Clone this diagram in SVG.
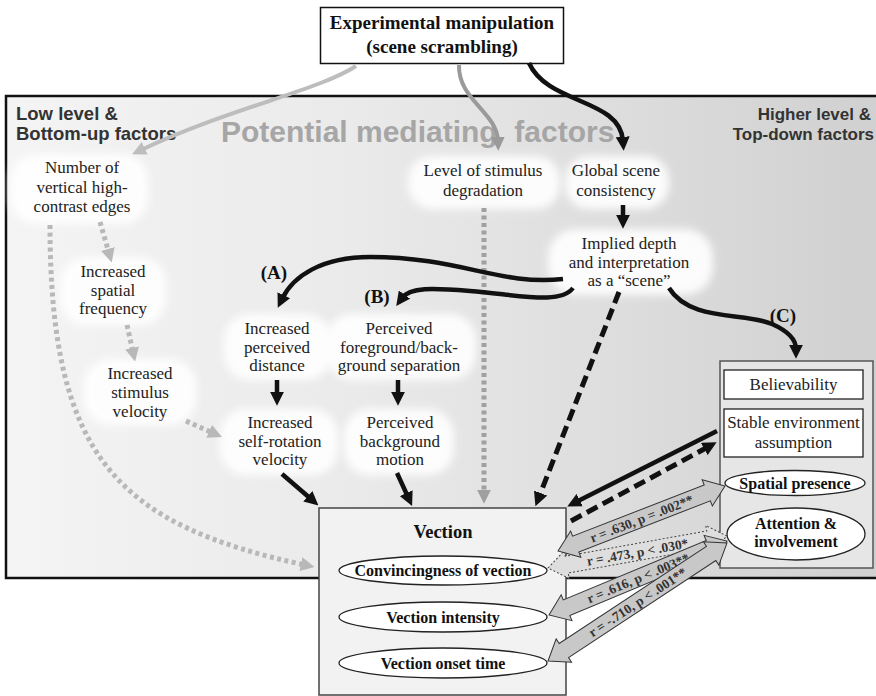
<svg xmlns="http://www.w3.org/2000/svg" width="876" height="696" viewBox="0 0 876 696">
<defs>
<linearGradient id="pg" x1="0" y1="0" x2="1" y2="0">
<stop offset="0" stop-color="#f4f4f4"/>
<stop offset="0.4" stop-color="#eaeaea"/>
<stop offset="1" stop-color="#d0d0d0"/>
</linearGradient>
<filter id="soft" x="-20%" y="-30%" width="140%" height="160%"><feGaussianBlur stdDeviation="4"/></filter>
<marker id="mk" viewBox="0 0 10 10" refX="3" refY="5" markerWidth="14" markerHeight="14" markerUnits="userSpaceOnUse" orient="auto"><path d="M0,0L10,5L0,10z" fill="#111"/></marker>
<marker id="mkg1" viewBox="0 0 10 10" refX="3" refY="5" markerWidth="14" markerHeight="14" markerUnits="userSpaceOnUse" orient="auto"><path d="M0,0L10,5L0,10z" fill="#bdbdbd"/></marker>
<marker id="mkg2" viewBox="0 0 10 10" refX="3" refY="5" markerWidth="14" markerHeight="14" markerUnits="userSpaceOnUse" orient="auto"><path d="M0,0L10,5L0,10z" fill="#9a9a9a"/></marker>
<marker id="mkg3" viewBox="0 0 10 10" refX="3" refY="5" markerWidth="14" markerHeight="14" markerUnits="userSpaceOnUse" orient="auto"><path d="M0,0L10,5L0,10z" fill="#b8b8b8"/></marker>
<marker id="mkg4" viewBox="0 0 10 10" refX="3" refY="5" markerWidth="14" markerHeight="14" markerUnits="userSpaceOnUse" orient="auto"><path d="M0,0L10,5L0,10z" fill="#a0a0a0"/></marker>
</defs>
<style>
.blob{fill:#ffffff;opacity:0.92;filter:url(#soft)}
.nt{font-family:"Liberation Serif","Times New Roman",serif;font-size:17px;fill:#222;text-anchor:middle}
.bt{font-family:"Liberation Serif","Times New Roman",serif;font-weight:bold;font-size:16px;fill:#111;text-anchor:middle}
.sec{font-family:"Liberation Sans",Arial,sans-serif;font-weight:bold;font-size:17px;fill:#333}
.lbl{font-family:"Liberation Serif","Times New Roman",serif;font-weight:bold;font-size:19px;fill:#111;text-anchor:middle}
.blk{fill:none;stroke:#111;stroke-width:4.5;marker-end:url(#mk)}
.blkd{fill:none;stroke:#111;stroke-width:5;stroke-dasharray:12 6;marker-end:url(#mk)}
.dot{fill:none;stroke:#b8b8b8;stroke-width:5;stroke-dasharray:4 3.5;marker-end:url(#mkg3)}
.fat{fill:#c8c8c8;stroke:#333;stroke-width:1}
.fatd{fill:#dedede;stroke:#444;stroke-width:1;stroke-dasharray:2 2}
.rt{font-family:"Liberation Serif","Times New Roman",serif;font-weight:bold;font-size:13.5px;fill:#333;text-anchor:middle}
.ell{fill:#ffffff;stroke:#222;stroke-width:1.3}
</style>

<rect x="6" y="96" width="874" height="482" fill="url(#pg)" stroke="#111" stroke-width="2.5"/>
<text class="sec" x="16" y="120" style="font-size:18.5px">Low level &amp;</text>
<text class="sec" x="16" y="140" style="font-size:18.5px">Bottom-up factors</text>
<text class="sec" x="871" y="120" text-anchor="end">Higher level &amp;</text>
<text class="sec" x="874" y="140" text-anchor="end">Top-down factors</text>
<text x="221" y="142" font-family="'Liberation Sans',Arial,sans-serif" font-weight="bold" font-size="30" fill="#a6a6a6" xml:space="preserve">Potential mediating  factors</text>

<g id="n_top">
<rect x="320.5" y="7.5" width="243" height="56" fill="#fff" stroke="#111" stroke-width="1.5"/>
<text class="bt" x="442" y="29" style="font-size:19px">Experimental manipulation</text>
<text class="bt" x="442" y="53" style="font-size:19px">(scene scrambling)</text>
</g>

<g id="n_edges">
<rect class="blob" x="10" y="154" width="138" height="70" rx="26"/>
<text class="nt" x="82" y="173">Number of</text>
<text class="nt" x="82" y="192.5">vertical high-</text>
<text class="nt" x="82" y="212">contrast edges</text>
</g>
<g id="n_spatial">
<rect class="blob" x="60" y="257" width="106" height="68" rx="26"/>
<text class="nt" x="113" y="277">Increased</text>
<text class="nt" x="113" y="295.5">spatial</text>
<text class="nt" x="113" y="314">frequency</text>
</g>
<g id="n_stimvel">
<rect class="blob" x="84" y="359" width="112" height="66" rx="26"/>
<text class="nt" x="140" y="379">Increased</text>
<text class="nt" x="140" y="398">stimulus</text>
<text class="nt" x="140" y="416.5">velocity</text>
</g>
<g id="n_dist">
<rect class="blob" x="224" y="314" width="108" height="66" rx="26"/>
<text class="nt" x="277" y="334">Increased</text>
<text class="nt" x="277" y="353">perceived</text>
<text class="nt" x="277" y="371">distance</text>
</g>
<g id="n_selfrot">
<rect class="blob" x="220" y="409" width="118" height="66" rx="26"/>
<text class="nt" x="280" y="428">Increased</text>
<text class="nt" x="280" y="447">self-rotation</text>
<text class="nt" x="280" y="465">velocity</text>
</g>
<g id="n_fg">
<rect class="blob" x="326" y="314" width="150" height="66" rx="26"/>
<text class="nt" x="399" y="334">Perceived</text>
<text class="nt" x="399" y="353">foreground/back-</text>
<text class="nt" x="399" y="371">ground separation</text>
</g>
<g id="n_bgm">
<rect class="blob" x="344" y="409" width="110" height="66" rx="26"/>
<text class="nt" x="400" y="428">Perceived</text>
<text class="nt" x="400" y="447">background</text>
<text class="nt" x="400" y="465">motion</text>
</g>
<g id="n_degr">
<rect class="blob" x="408" y="156" width="152" height="53" rx="24"/>
<text class="nt" x="483" y="176">Level of stimulus</text>
<text class="nt" x="483" y="196">degradation</text>
</g>
<g id="n_global">
<rect class="blob" x="565" y="156" width="104" height="53" rx="24"/>
<text class="nt" x="616" y="176">Global scene</text>
<text class="nt" x="616" y="196">consistency</text>
</g>
<g id="n_depth">
<rect class="blob" x="548" y="229" width="165" height="66" rx="28"/>
<text class="nt" x="629" y="249">Implied depth</text>
<text class="nt" x="629" y="268">and interpretation</text>
<text class="nt" x="629" y="286">as a “scene”</text>
</g>

<g id="n_topdown">
<rect x="720" y="361" width="153" height="207" fill="#e6e6e6" stroke="#555" stroke-width="1.5"/>
<rect x="724" y="370" width="139" height="29" fill="#fff" stroke="#222" stroke-width="1.3"/>
<text class="nt" x="793.5" y="390">Believability</text>
<rect x="724" y="409" width="139" height="48" fill="#fff" stroke="#222" stroke-width="1.3"/>
<text class="nt" x="793.5" y="428">Stable environment</text>
<text class="nt" x="793.5" y="448">assumption</text>
<ellipse class="ell" cx="795" cy="483" rx="70" ry="12.5"/>
<text class="bt" x="795" y="488.5">Spatial presence</text>
<ellipse class="ell" cx="796" cy="534" rx="69" ry="26"/>
<text class="bt" x="796" y="529">Attention &amp;</text>
<text class="bt" x="796" y="547">involvement</text>
</g>

<g id="n_vection">
<rect x="319" y="508" width="247" height="187" fill="#f2f2f2" stroke="#444" stroke-width="1.5"/>
<text class="bt" x="443" y="538" style="font-size:18.5px">Vection</text>
<ellipse class="ell" cx="443" cy="570.5" rx="104" ry="14.5"/>
<text class="bt" x="443" y="576">Convincingness of vection</text>
<ellipse class="ell" cx="443" cy="617" rx="104" ry="15"/>
<text class="bt" x="443" y="622.5">Vection intensity</text>
<ellipse class="ell" cx="443" cy="663" rx="104" ry="15"/>
<text class="bt" x="443" y="668.5">Vection onset time</text>
</g>

<g id="connectors">
<path d="M356,66 C320,90 230,108 141,150" fill="none" stroke="#bdbdbd" stroke-width="4" marker-end="url(#mkg1)"/>
<path d="M459,65 C458,100 497,112 498,141" fill="none" stroke="#9a9a9a" stroke-width="4" marker-end="url(#mkg2)"/>
<path class="blk" d="M529,63 C548,105 620,98 623,141"/>
<path class="blk" d="M623,205 L623,219"/>
<path class="dot" d="M100,222 L109,253"/>
<path class="dot" d="M127,325 L133,352"/>
<path class="dot" d="M186,421 L213,433"/>
<path class="dot" d="M50,225 C50,460 120,525 305,565"/>
<path d="M484,208 L484,494" fill="none" stroke="#a0a0a0" stroke-width="5" stroke-dasharray="4 3.5" marker-end="url(#mkg4)"/>
<path class="blk" d="M563,279 C500,286 460,257 370,257 C322,257 293,276 282,299"/>
<path class="blk" d="M573,288 C560,305 520,295 470,291 C432,288 410,287 402,298"/>
<path class="blk" d="M669,288 C690,322 745,312 772,324 C790,332 796,340 796,349"/>
<path class="blkd" d="M619,292 L539,497"/>
<path class="blk" d="M282,474 L311,499"/>
<path class="blk" d="M397,473 L408,497"/>
<path class="blk" d="M277,380 L277,396"/>
<path class="blk" d="M398,380 L398,396"/>
<path class="blk" d="M717,431 L576,502"/>
<path class="blkd" d="M571,521 L708,447"/>

<g transform="translate(548,568) rotate(-10.14)">
<polygon class="fatd" points="0,0 19,-14 19,-8.5 162.8,-8.5 162.8,-14 181.8,0 162.8,14 162.8,8.5 19,8.5 19,14"/>
<text class="rt" x="90.9" y="4.8">r = .473, p &lt; .030*</text>
</g>
<g transform="translate(558,551) rotate(-21.27)">
<polygon class="fat" points="0,0 19,-14 19,-8.5 160.2,-8.5 160.2,-14 179.2,0 160.2,14 160.2,8.5 19,8.5 19,14"/>
<text class="rt" x="89.6" y="4.8">r = .630, p = .002**</text>
</g>
<g transform="translate(549,615) rotate(-22.57)">
<polygon class="fat" points="0,0 19,-14 19,-8.5 173.8,-8.5 173.8,-14 192.8,0 173.8,14 173.8,8.5 19,8.5 19,14"/>
<text class="rt" x="96.4" y="4.8">r = .616, p &lt; .003**</text>
</g>
<g transform="translate(548,661) rotate(-33.4)">
<polygon class="fat" points="0,0 19,-14 19,-8.5 195.4,-8.5 195.4,-14 214.4,0 195.4,14 195.4,8.5 19,8.5 19,14"/>
<text class="rt" x="107.2" y="4.8">r = -.710, p &lt; .001**</text>
</g>
</g>

<text class="lbl" x="274" y="279">(A)</text>
<text class="lbl" x="377" y="303">(B)</text>
<text class="lbl" x="783" y="322">(C)</text>
</svg>
